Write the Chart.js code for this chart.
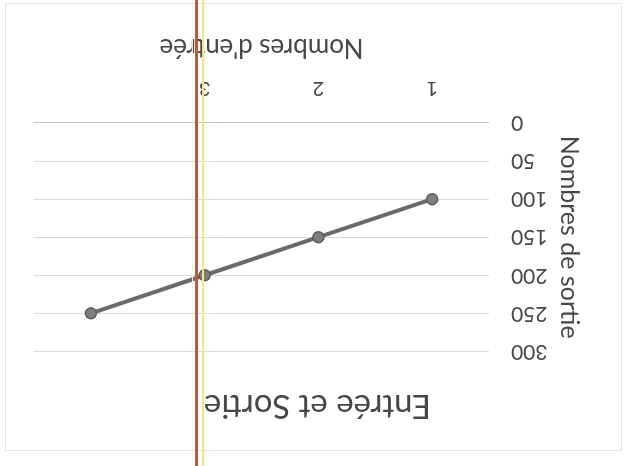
<!DOCTYPE html>
<html lang="fr">
<head>
<meta charset="utf-8">
<title>Entrée et Sortie</title>
<script src="https://cdn.jsdelivr.net/npm/chart.js@4/dist/chart.umd.min.js"></script>
<style>
  html, body { margin: 0; padding: 0; background: #ffffff; }
  body { width: 629px; height: 466px; overflow: hidden; position: relative; }
  /* the whole sheet is printed upside down */
  #sheet {
    position: absolute; left: 0; top: 0; width: 629px; height: 466px;
    transform: rotate(180deg); transform-origin: 50% 50%;
  }
  #frame {
    position: absolute; left: 7px; top: 15px; width: 615px; height: 446px;
    border: 1px solid #e6e6e6;
  }
  #chart { position: absolute; left: 0; top: 0; }
  /* marker strokes across the page */
  .stroke { position: absolute; top: 0; height: 466px; }
  #red { left: 195px; width: 3px; background: #c0564a; }
  #yel1 { left: 192px; width: 1px; background: #f3f3c4; }
  #yel2 { left: 202px; width: 2px; background: #e9e98f; }
</style>
</head>
<body>
<div id="sheet">
  <div id="frame"></div>
  <canvas id="chart" width="629" height="466"></canvas>
</div>
<div class="stroke" id="yel1"></div>
<div class="stroke" id="red"></div>
<div class="stroke" id="yel2"></div>
<script>
// Inputs (categories) and outputs (values)
const categories = ['1', '2', '3', ''];
const sortie = [100, 150, 200, 250];
const yRange = [0, 300];
const yStep = [50];

const titleText = 'Entrée et Sortie';
const xTitle = "Nombres d'entrée";
const yTitle = 'Nombres de sortie';

const textColor = '#474747';
const fontFamily = 'Lato, "Open Sans", "Liberation Sans", sans-serif';

new Chart(document.getElementById('chart'), {
  type: 'line',
  data: {
    labels: categories,
    datasets: [{
      label: yTitle,
      data: sortie,
      borderColor: '#6a6a6a',
      borderWidth: 4,
      pointRadius: 5.5,
      pointBackgroundColor: '#7e7e7e',
      pointBorderColor: '#5c5c5c',
      pointBorderWidth: 1.5,
      tension: 0
    }]
  },
  options: {
    responsive: false,
    devicePixelRatio: 1,
    animation: false,
    layout: { padding: { left: 28, right: 34, top: 15, bottom: 20 } },
    plugins: {
      legend: { display: false },
      tooltip: { enabled: false },
      title: {
        display: true,
        text: titleText,
        color: textColor,
        font: { family: fontFamily, size: 33, weight: 'normal' },
        padding: { top: 26, bottom: 34 }
      }
    },
    scales: {
      x: {
        type: 'category',
        offset: true,
        grid: { display: false, drawTicks: false },
        border: { display: true, color: '#c4c4c4', width: 1 },
        ticks: {
          color: textColor,
          padding: 23,
          font: { family: fontFamily, size: 20 }
        },
        title: {
          display: true,
          text: xTitle,
          color: textColor,
          font: { family: fontFamily, size: 26 },
          padding: { top: 0, bottom: 12 }
        },
        afterFit: (scale) => { scale.height = 103; }
      },
      y: {
        min: yRange[0],
        max: yRange[1],
        grid: { color: '#dadada', lineWidth: 1, drawTicks: false },
        border: { display: false },
        ticks: {
          stepSize: yStep[0],
          color: textColor,
          padding: 22,
          font: { family: fontFamily, size: 21 }
        },
        title: {
          display: true,
          text: yTitle,
          color: textColor,
          font: { family: fontFamily, size: 25 },
          padding: { top: 17, bottom: 0 }
        },
        afterFit: (scale) => { scale.width = 112; }
      }
    }
  }
});
</script>
</body>
</html>
